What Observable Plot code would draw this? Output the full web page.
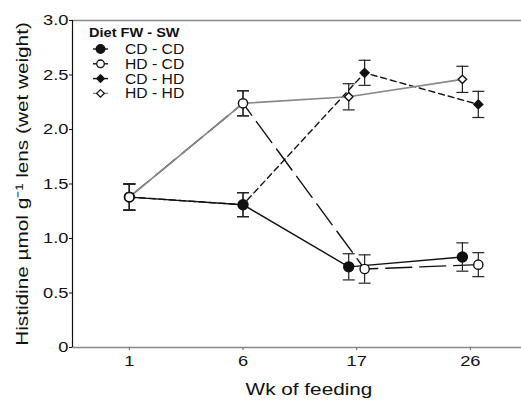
<!DOCTYPE html>
<html><head><meta charset="utf-8">
<script src="https://cdn.jsdelivr.net/npm/d3@7"></script>
<script src="https://cdn.jsdelivr.net/npm/@observablehq/plot@0.6"></script>
<style>
body{margin:0;background:#fff}
svg{font-family:"Liberation Sans",Arial,sans-serif}
</style>
</head><body><div id="chart"></div>
<script>
const weeks = ["1", "6", "17", "26"];
const diets = ["CD - CD", "HD - CD", "CD - HD", "HD - HD"];
const cdcd = [1.38, 1.31, 0.74, 0.83];
const cdcdErr = [0.12, 0.11, 0.12, 0.13];
const hdcd = [1.38, 2.24, 0.72, 0.76];
const hdcdErr = [0.12, 0.115, 0.13, 0.11];
const cdhd = [1.38, 1.31, 2.52, 2.23];
const cdhdErr = [0.12, 0.11, 0.115, 0.12];
const hdhd = [1.38, 2.24, 2.30, 2.46];
const hdhdErr = [0.12, 0.115, 0.12, 0.12];
const yTicks = [0, 0.5, 1.0, 1.5, 2.0, 2.5, 3.0];
const legendTitle = "Diet FW - SW";
const yLabel = "Histidine µmol g⁻¹ lens (wet weight)";
const xLabel = "Wk of feeding";

const means = {"CD - CD": cdcd, "HD - CD": hdcd, "CD - HD": cdhd, "HD - HD": hdhd};
const errs = {"CD - CD": cdcdErr, "HD - CD": hdcdErr, "CD - HD": cdhdErr, "HD - HD": hdhdErr};
const style = {
  "CD - CD": {stroke: "#111", dash: null, symbol: "circle", fill: "#111", r: 5, side: -1},
  "HD - CD": {stroke: "#111", dash: "26,8", symbol: "circle", fill: "#fff", r: 4.6, side: 1},
  "CD - HD": {stroke: "#111", dash: "6,4", symbol: "diamond2", fill: "#111", r: 4, side: 1},
  "HD - HD": {stroke: "#888", dash: null, symbol: "diamond2", fill: "#fff", r: 3.8, side: -1}
};
const rows = [];
for (const s of diets) weeks.forEach((w, i) => rows.push({
  diet: s, i, wk: w, mean: means[s][i], err: errs[s][i],
  x: i + (i >= 2 ? style[s].side * 0.07 : 0)
}));
const cap = {draw(ctx) { ctx.moveTo(-6, 0); ctx.lineTo(6, 0); }};
const lineOrder = ["CD - CD", "HD - CD", "CD - HD", "HD - HD"];
const dotOrder = ["CD - HD", "CD - CD", "HD - HD", "HD - CD"];

const plot = Plot.plot({
  width: 521, height: 400,
  marginLeft: 72, marginRight: 0, marginTop: 20, marginBottom: 53,
  style: {fontFamily: '"Liberation Sans", Arial, sans-serif', color: "#111", background: "#fff"},
  x: {type: "linear", domain: [-0.5, 3.45]},
  y: {domain: [0, 3]},
  marks: [
    Plot.ruleY([0], {stroke: "#888", strokeWidth: 1.5}),
    Plot.ruleY([3], {stroke: "#888", strokeWidth: 1.5}),
    Plot.ruleX([-0.5], {stroke: "#111", strokeWidth: 1.2}),
    Plot.axisY({ticks: yTicks, tickFormat: d => d === 0 ? "0" : d.toFixed(1), tickSize: 3, tickPadding: 1, fontSize: 15, label: null, stroke: "#111"}),
    Plot.axisX({ticks: [0, 1, 2, 3], tickFormat: i => weeks[i], tickSize: 3, tickPadding: 5, fontSize: 15, label: null, stroke: "#666"}),
    ...lineOrder.map(s => Plot.line(rows.filter(d => d.diet === s), {
      x: "x", y: "mean", stroke: style[s].stroke, strokeWidth: style[s].stroke === "#888" ? 1.6 : 1.4,
      strokeDasharray: style[s].dash
    })),
    Plot.ruleX(rows, {x: "x", y1: d => d.mean - d.err, y2: d => d.mean + d.err, stroke: "#222", strokeWidth: 1.2}),
    Plot.dot(rows, {x: "x", y: d => d.mean + d.err, symbol: cap, fill: "none", stroke: "#222", strokeWidth: 1.2}),
    Plot.dot(rows, {x: "x", y: d => d.mean - d.err, symbol: cap, fill: "none", stroke: "#222", strokeWidth: 1.2}),
    ...dotOrder.map(s => Plot.dot(rows.filter(d => d.diet === s), {
      x: "x", y: "mean", symbol: style[s].symbol, r: style[s].r,
      fill: style[s].fill, stroke: "#111", strokeWidth: 1.4
    })),
    Plot.text([yLabel], {frameAnchor: "left", textAnchor: "middle", rotate: -90, dx: -50, fontSize: 17, fill: "#111"}),
    Plot.text([xLabel], {frameAnchor: "bottom", textAnchor: "middle", lineAnchor: "middle", dx: 12, dy: 42, fontSize: 17, fill: "#111"})
  ]
});
document.getElementById("chart").appendChild(plot);

// legend
const svg = d3.select(plot);
const lg = svg.append("g").attr("text-anchor", "start").attr("class", "legend");
lg.append("text").attr("x", 89).attr("y", 37).attr("font-size", 13).attr("font-weight", "bold").attr("fill", "#111").text(legendTitle);
diets.forEach((s, k) => {
  const cy = 49 + k * 14.8;
  const st = style[s];
  lg.append("line").attr("x1", 93).attr("x2", 108).attr("y1", cy).attr("y2", cy)
    .attr("stroke", st.stroke).attr("stroke-width", 1.4);
  const sym = st.symbol === "circle" ? d3.symbolCircle : d3.symbolDiamond2;
  const rr = st.symbol === "circle" ? (st.fill === "#fff" ? 3.8 : 4.3) : 3.4;
  lg.append("path").attr("transform", `translate(100.5,${cy})`)
    .attr("d", d3.symbol(sym, rr * rr * Math.PI)())
    .attr("fill", st.fill).attr("stroke", "#111").attr("stroke-width", 1.3);
  lg.append("text").attr("x", 125).attr("y", cy + 5).attr("font-size", 14).attr("fill", "#111").text(s);
});

// widen glyphs to match the reference's broad typeface, keeping each text's anchor
function stretch(t, k) {
  const L = t.getComputedTextLength();
  if (!L) return;
  const anchor = getComputedStyle(t).textAnchor;
  const x0 = parseFloat(t.getAttribute("x") || 0);
  const W = L * k;
  const x = anchor === "middle" ? x0 - W / 2 : anchor === "end" ? x0 - W : x0;
  t.setAttribute("text-anchor", "start");
  t.setAttribute("x", x.toFixed(2));
  t.setAttribute("textLength", W.toFixed(2));
  t.setAttribute("lengthAdjust", "spacingAndGlyphs");
}
plot.querySelectorAll("text").forEach(t => {
  const inLegend = t.closest(".legend");
  stretch(t, inLegend ? 1.12 : 1.22);
});
</script>
</body></html>
